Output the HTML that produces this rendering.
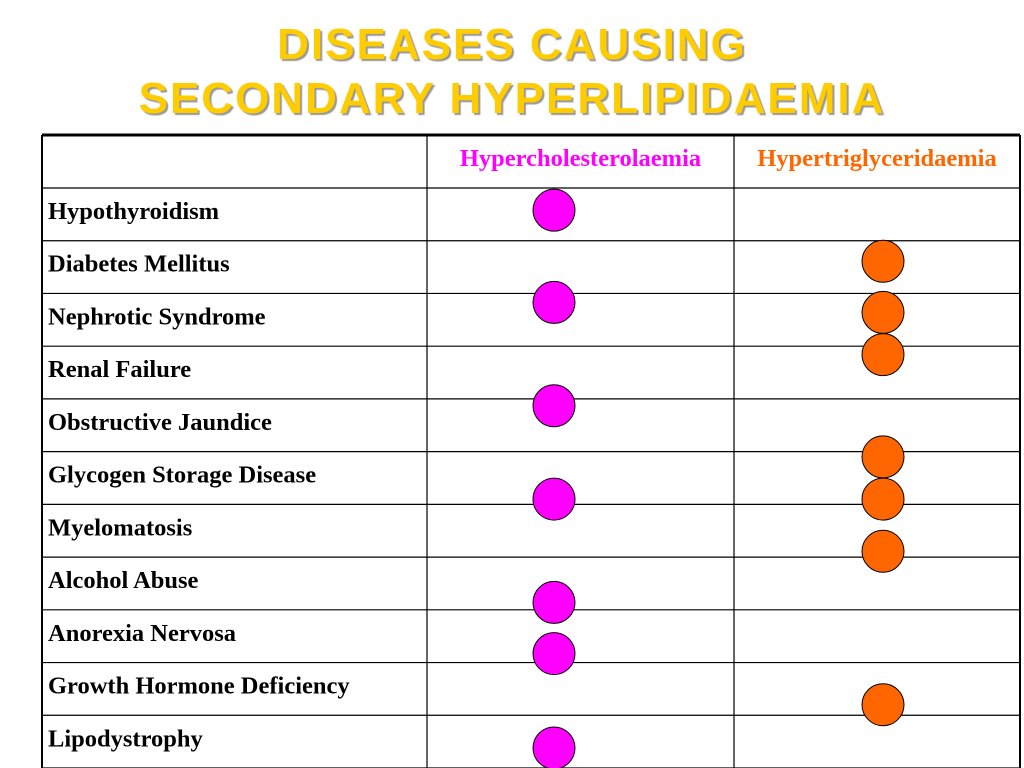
<!DOCTYPE html>
<html><head><meta charset="utf-8"><style>
body{margin:0;width:1024px;height:768px;background:#fff;overflow:hidden;position:relative;font-family:"Liberation Serif",serif}
.t{position:absolute;left:0;width:1024px;text-align:center;font-family:"Liberation Sans",sans-serif;font-weight:bold;font-size:44px;color:#FFCC00;text-shadow:2px 2px 1px #999;letter-spacing:2px}
</style></head><body>
<div class="t" style="top:20px">DISEASES CAUSING</div>
<div class="t" style="top:74px">SECONDARY HYPERLIPIDAEMIA</div>
<svg id="chart" width="1024" height="768" style="position:absolute;left:0;top:0"></svg>
<script>
const diseases=["Hypothyroidism","Diabetes Mellitus","Nephrotic Syndrome","Renal Failure","Obstructive Jaundice","Glycogen Storage Disease","Myelomatosis","Alcohol Abuse","Anorexia Nervosa","Growth Hormone Deficiency","Lipodystrophy"];
const columns=["Hypercholesterolaemia","Hypertriglyceridaemia"];
const cholMarks=[0.42,2.17,4.13,5.9,7.86,8.83,10.62];
const trigMarks=[1.39,2.36,3.16,5.1,5.9,6.89,9.8];
const svg=document.getElementById('chart');
const NS='http://www.w3.org/2000/svg';
const L=42,R=1020,T=135,H0=188,RH=(768-188)/11,C1=427,C2=734;
const rowY=v=>H0+v*RH;
function mk(tag,a){const e=document.createElementNS(NS,tag);for(const k in a)e.setAttribute(k,a[k]);svg.appendChild(e);return e;}
let e;
e=mk('line',{x1:L,x2:R,y1:T,y2:T,stroke:'#000','stroke-width':3});


[L,C1,C2,R].forEach(x=>{e=mk('line',{x1:x,x2:x,y1:T,y2:768,stroke:'#000','stroke-width':x==L||x==R?2:1.2});

});
for(let i=0;i<=diseases.length;i++){const y=rowY(i);e=mk('line',{x1:L,x2:R,y1:y,y2:y,stroke:'#000','stroke-width':1.2});

}
const hc=['#FF00FF','#FF6600'];const cx=[(C1+C2)/2,(C2+R)/2];
columns.forEach((c,i)=>{e=mk('text',{x:cx[i],y:166,'text-anchor':'middle','font-size':24.5,'font-weight':'bold',fill:hc[i],'font-family':'Liberation Serif,serif'});e.textContent=c;

});
diseases.forEach((d,i)=>{e=mk('text',{x:48,y:rowY(i)+31,'font-size':24.5,'font-weight':'bold',fill:'#000','font-family':'Liberation Serif,serif'});e.textContent=d;

});
cholMarks.forEach(v=>{e=mk('circle',{cx:554,cy:rowY(v),r:21,fill:'#FF00FF',stroke:'#000','stroke-width':1});

});
trigMarks.forEach(v=>{e=mk('circle',{cx:883,cy:rowY(v),r:21,fill:'#FF6600',stroke:'#000','stroke-width':1});

});
</script>
</body></html>
